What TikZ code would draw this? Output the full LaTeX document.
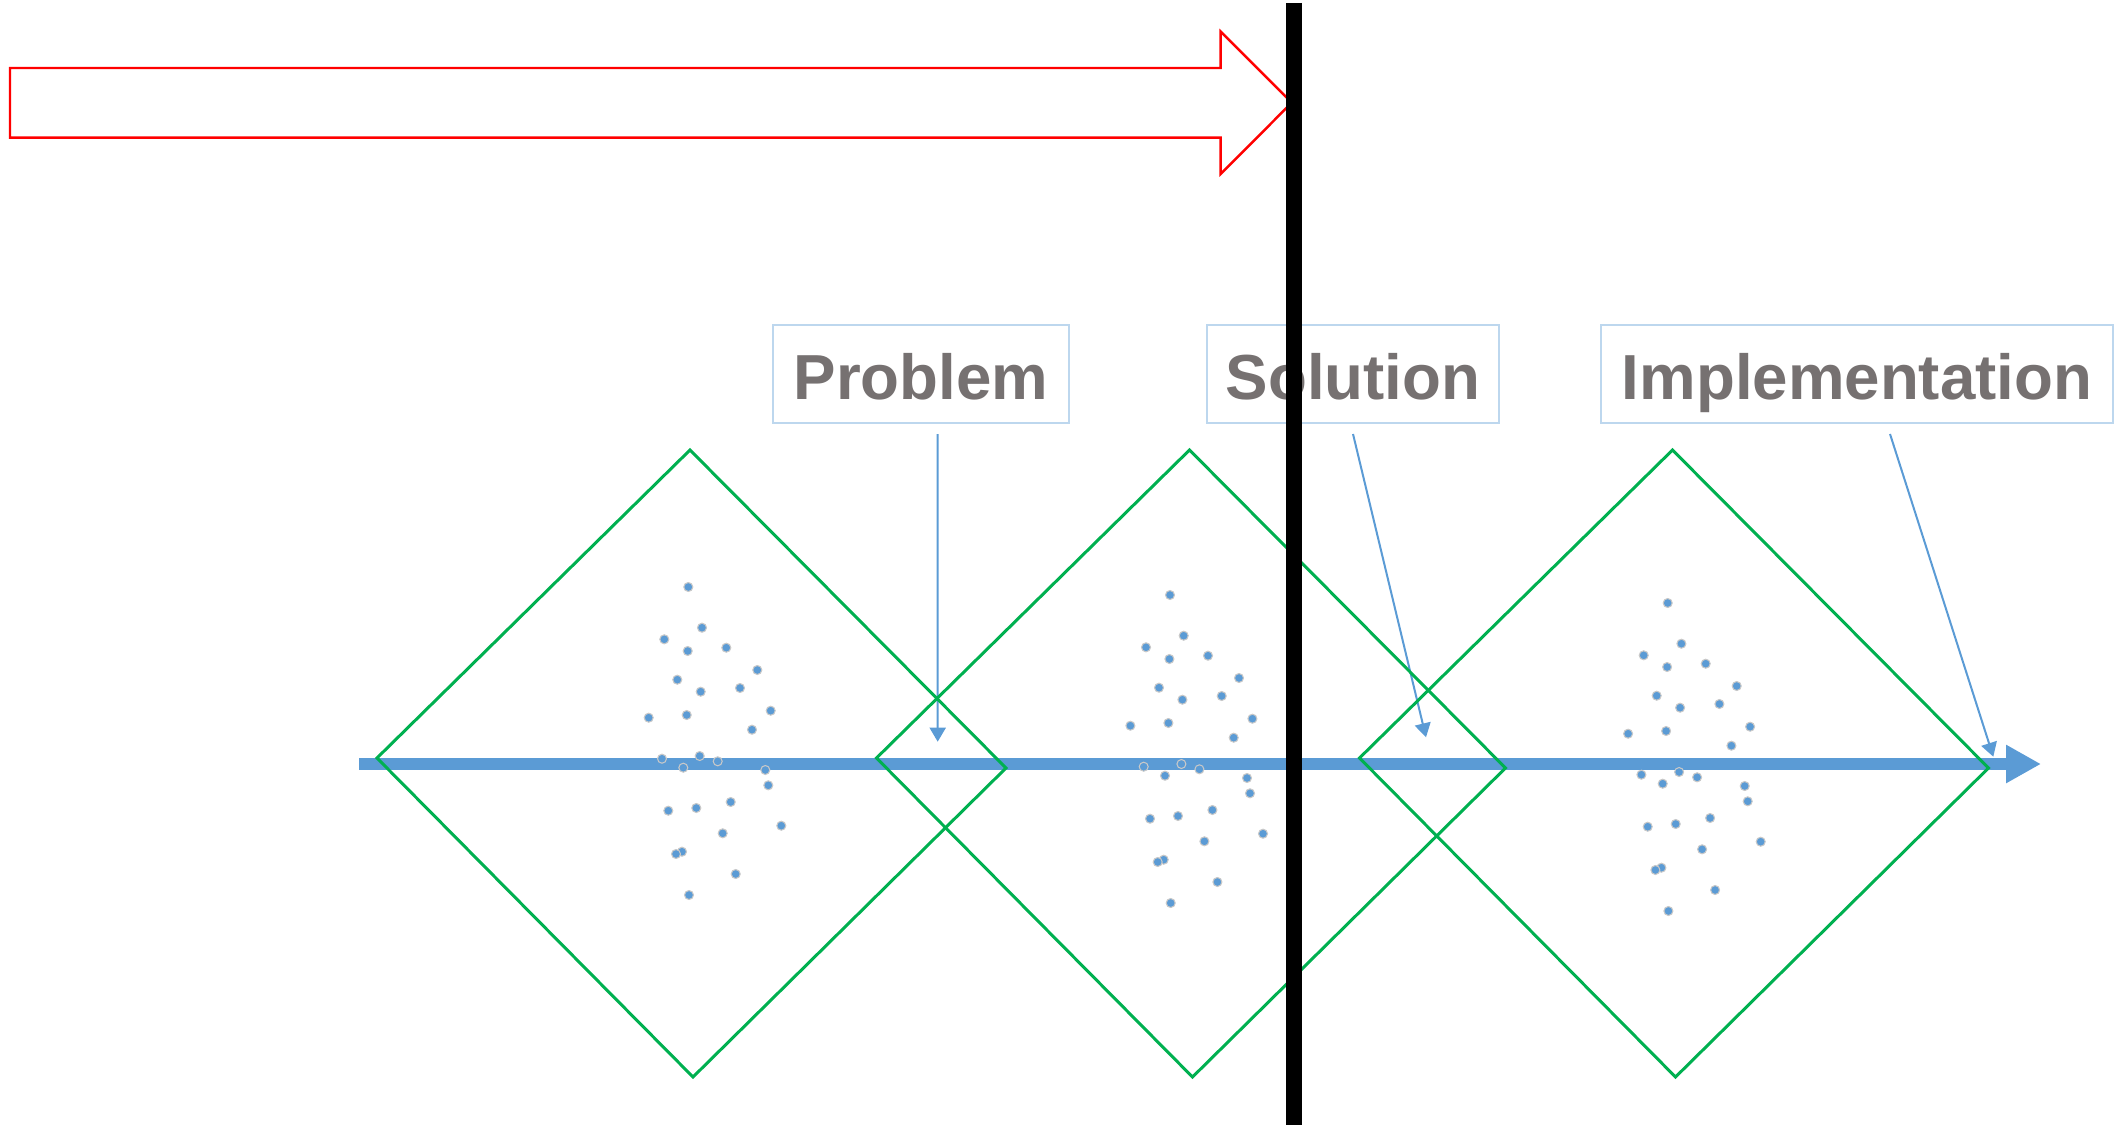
\documentclass[tikz,border=0pt]{standalone}
\usepackage{fontspec}
\setmainfont{Liberation Sans}
\usetikzlibrary{arrows.meta}
\definecolor{axisblue}{HTML}{5B9BD5}
\definecolor{phasegreen}{HTML}{00B050}
\definecolor{labelgray}{HTML}{767171}
\definecolor{boxedge}{HTML}{BDD7EE}
\definecolor{dotring}{HTML}{C8C8C8}
\tikzset{
	phase/.style={draw=phasegreen, line width=0.85pt, line join=miter},
	labelbox/.style={rectangle, draw=boxedge, fill=white, line width=0.5pt, minimum height=0.974cm, inner sep=0pt, text height=0.5cm, text depth=0cm, font=\fontsize{18.1}{22}\selectfont\bfseries, text=labelgray},
	pointer/.style={draw=axisblue, line width=0.02cm, -{Triangle[length=0.14cm, width=0.16cm]}},
	timeline/.style={draw=axisblue, line width=0.12cm, -{Triangle[length=0.35cm, width=0.36cm]}},
	sample/.style={fill=axisblue, draw=dotring, line width=0.3pt},
	push/.style={draw=red, line width=0.7pt, line join=miter}
}

\begin{document}
\begin{tikzpicture}[x=0.01cm, y=-0.01cm]
		\useasboundingbox (0,0) rectangle (2115,1127);
		
		% Zeitachse
		\coordinate (axisfrom) at (359,764);
		\coordinate (axisto) at (2041,764);
		\draw [timeline] (axisfrom) -- (axisto);
		
		% Punktwolken
		\foreach \dx/\dy in {0/0, 481.7/8, 979.4/16} {
			\begin{scope}[shift={(\dx,\dy)}]
				\foreach \px/\py in {688.3/587, 702/627.7, 664.3/639.3, 687.7/651, 726.3/647.7, 757.3/670, 677.3/679.7, 700.7/691.7, 740/688, 648.7/717.7, 686.7/715, 770.7/710.7, 752/729.7, 662/758.7, 699.7/756, 683.3/767.7, 717.7/761.3, 765.3/770, 768.3/785.3, 730.7/802, 668.3/810.7, 696.3/808, 781.3/825.7, 722.7/833.3, 682/851.7, 676/854, 735.7/874, 689/895}
					\filldraw [sample] (\px,\py) circle [radius=4.5];
			\end{scope}
		}
		
		% Beschriftungen
		\node (problem) [labelbox, minimum width=2.957cm] at (921,374) {Problem};
		\node (solution) [labelbox, minimum width=2.917cm] at (1353,374) {Solution};
		\node (implementation) [labelbox, minimum width=5.11cm] at (1857,374) {Implementation};
		
		% Zeiger
		\coordinate (probfrom) at (937.6,434);
		\coordinate (probtip) at (937.7,741.7);
		\coordinate (solfrom) at (1353,434);
		\coordinate (soltip) at (1426,737.3);
		\coordinate (implfrom) at (1890,434);
		\coordinate (impltip) at (1993.3,756.7);
		\draw [pointer] (probfrom) -- (probtip);
		\draw [pointer] (solfrom) -- (soltip);
		\draw [pointer] (implfrom) -- (impltip);
		
		% Rauten
		\foreach \dx in {0, 499.5, 982.5}
			\draw [phase] (377+\dx,758) -- (690+\dx,450) -- (1006+\dx,768) -- (693+\dx,1077) -- cycle;
		
		% Pfeil oben
		\draw [push] (10,68) -- (1220.7,68) -- (1220.7,31.7) -- (1291.7,102.7) -- (1220.7,174) -- (1220.7,137.7) -- (10,137.7) -- cycle;
		
		% Trennlinie
		\draw [line width=0.16cm] (1294,3) -- (1294,1125);
	\end{tikzpicture}
\end{document}
